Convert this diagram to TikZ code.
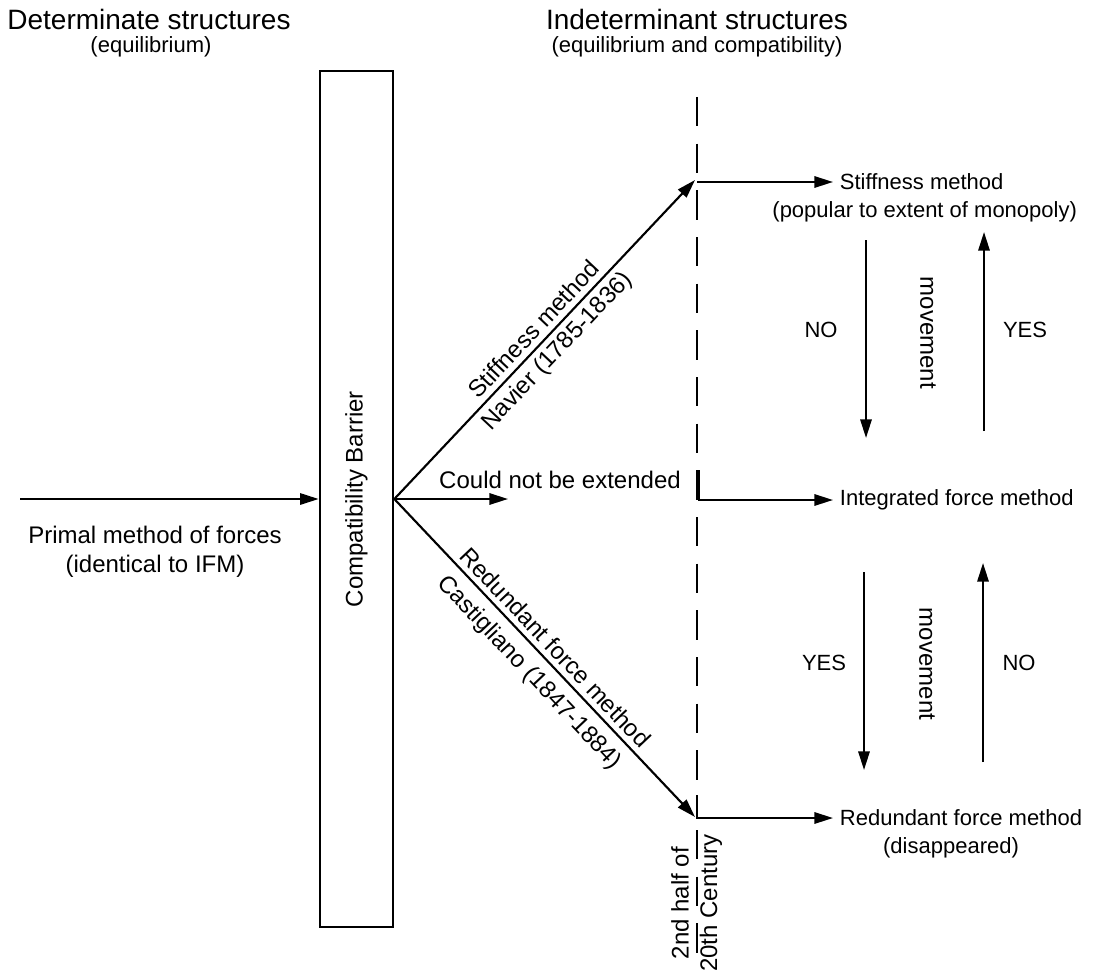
\documentclass[tikz,border=0pt]{standalone}
\usepackage{fontspec}
\setmainfont{Liberation Sans}
\usetikzlibrary{arrows.meta,calc}
\begin{document}
\begin{tikzpicture}[x=0.75pt,y=-0.75pt,
  ln/.style={line width=1.6pt},
  arr/.style={ln,-{Triangle[length=14pt,width=8.5pt]}},
  divider/.style={line width=2pt,dash pattern=on 22pt off 13pt},
  big/.style={font=\fontsize{21}{25}\selectfont,inner sep=0pt},
  sub/.style={font=\fontsize{16.5}{20}\selectfont,inner sep=0pt},
  txt/.style={font=\fontsize{18}{21}\selectfont,inner sep=2pt},
  rtxt/.style={font=\fontsize{16.5}{20}\selectfont,inner sep=2pt},
  slab/.style={txt,sloped,inner sep=4pt},
  barrier/.style={draw,line width=2pt,inner sep=0pt,minimum width=54.75pt,minimum height=642pt}
]
\useasboundingbox (0,0) rectangle (1112,970);

% titles
\node[big] (t1) at (149,19) {Determinate structures};
\node[sub] (s1) at (151,47) {(equilibrium)};
\node[big] (t2) at (697,19) {Indeterminant structures};
\node[sub] (s2) at (697,47) {(equilibrium and compatibility)};

% barrier
\node[barrier] (bar) at (356.5,499) {};
\node[txt,rotate=90] (bartxt) at (bar.center) {Compatibility Barrier};

% input
\coordinate (in) at (20,499);
\draw[arr] (in) -- (bar.west);
\node[txt] (p1) at (155,535) {Primal method of forces};
\node[txt] (p2) at (155,566) {(identical to IFM)};

% fan
\coordinate (U) at (695,180);
\coordinate (M) at (508,499);
\coordinate (L) at (695,817);
\draw[arr] (bar.east) -- node[slab,above]{Stiffness method} node[slab,below]{Navier (1785-1836)} (U);
\draw[arr] (bar.east) -- (M);
\node[txt] (cnbe) at (560,480) {Could not be extended};
\draw[arr] (bar.east) -- node[slab,above]{Redundant force method} node[slab,below,inner sep=7pt]{Castigliano (1847-1884)} (L);

% divider
\coordinate (dtop) at (697,97);
\coordinate (dbot) at (697,795);
\coordinate (dlow1) at (697,830);
\coordinate (dlow2) at (697,966);
\draw[divider] (dtop) -- (dbot);
\draw[divider] (dlow1) -- (dlow2);
\node[txt,rotate=90] (half) at (680,903) {2nd half of};
\node[txt,rotate=90] (cent) at (711,903) {20th Century};

% right side results
\node[rtxt,anchor=west,inner xsep=5pt] (sm) at (833,182) {Stiffness method};
\node[rtxt] (pop) at ($(sm.center)+(3,30)$) {(popular to extent of monopoly)};
\node[rtxt,anchor=west,inner xsep=5pt] (ifm) at (833,500) {Integrated force method};
\node[rtxt,anchor=west,inner xsep=5pt] (rfm) at (833,818) {Redundant force method};
\node[rtxt] (dis) at ($(rfm.center)+(-10,30)$) {(disappeared)};

\coordinate (a1) at (697,182);
\coordinate (m0) at (699,470);
\coordinate (b0) at (697,795);
\draw[arr] (a1) -- (sm.west);
\draw[arr] (m0) |- (ifm.west);
\draw[arr] (b0) |- (rfm.west);

% movements, upper pair
\coordinate (d1s) at (866,240);
\coordinate (d1e) at (866,438);
\coordinate (u1s) at (984,431);
\coordinate (u1e) at (984,232);
\draw[arr] (d1s) -- (d1e);
\draw[arr] (u1s) -- (u1e);
\node[rtxt] (no1) at (821,330) {NO};
\node[txt,rotate=-90] (mv1) at (928,333) {movement};
\node[rtxt] (yes1) at (1025,330) {YES};

% movements, lower pair
\coordinate (d2s) at (864,572);
\coordinate (d2e) at (864,770);
\coordinate (u2s) at (983,762);
\coordinate (u2e) at (983,563);
\draw[arr] (d2s) -- (d2e);
\draw[arr] (u2s) -- (u2e);
\node[rtxt] (yes2) at (824,663) {YES};
\node[txt,rotate=-90] (mv2) at (927,664) {movement};
\node[rtxt] (no2) at (1019,663) {NO};
\end{tikzpicture}
\end{document}
